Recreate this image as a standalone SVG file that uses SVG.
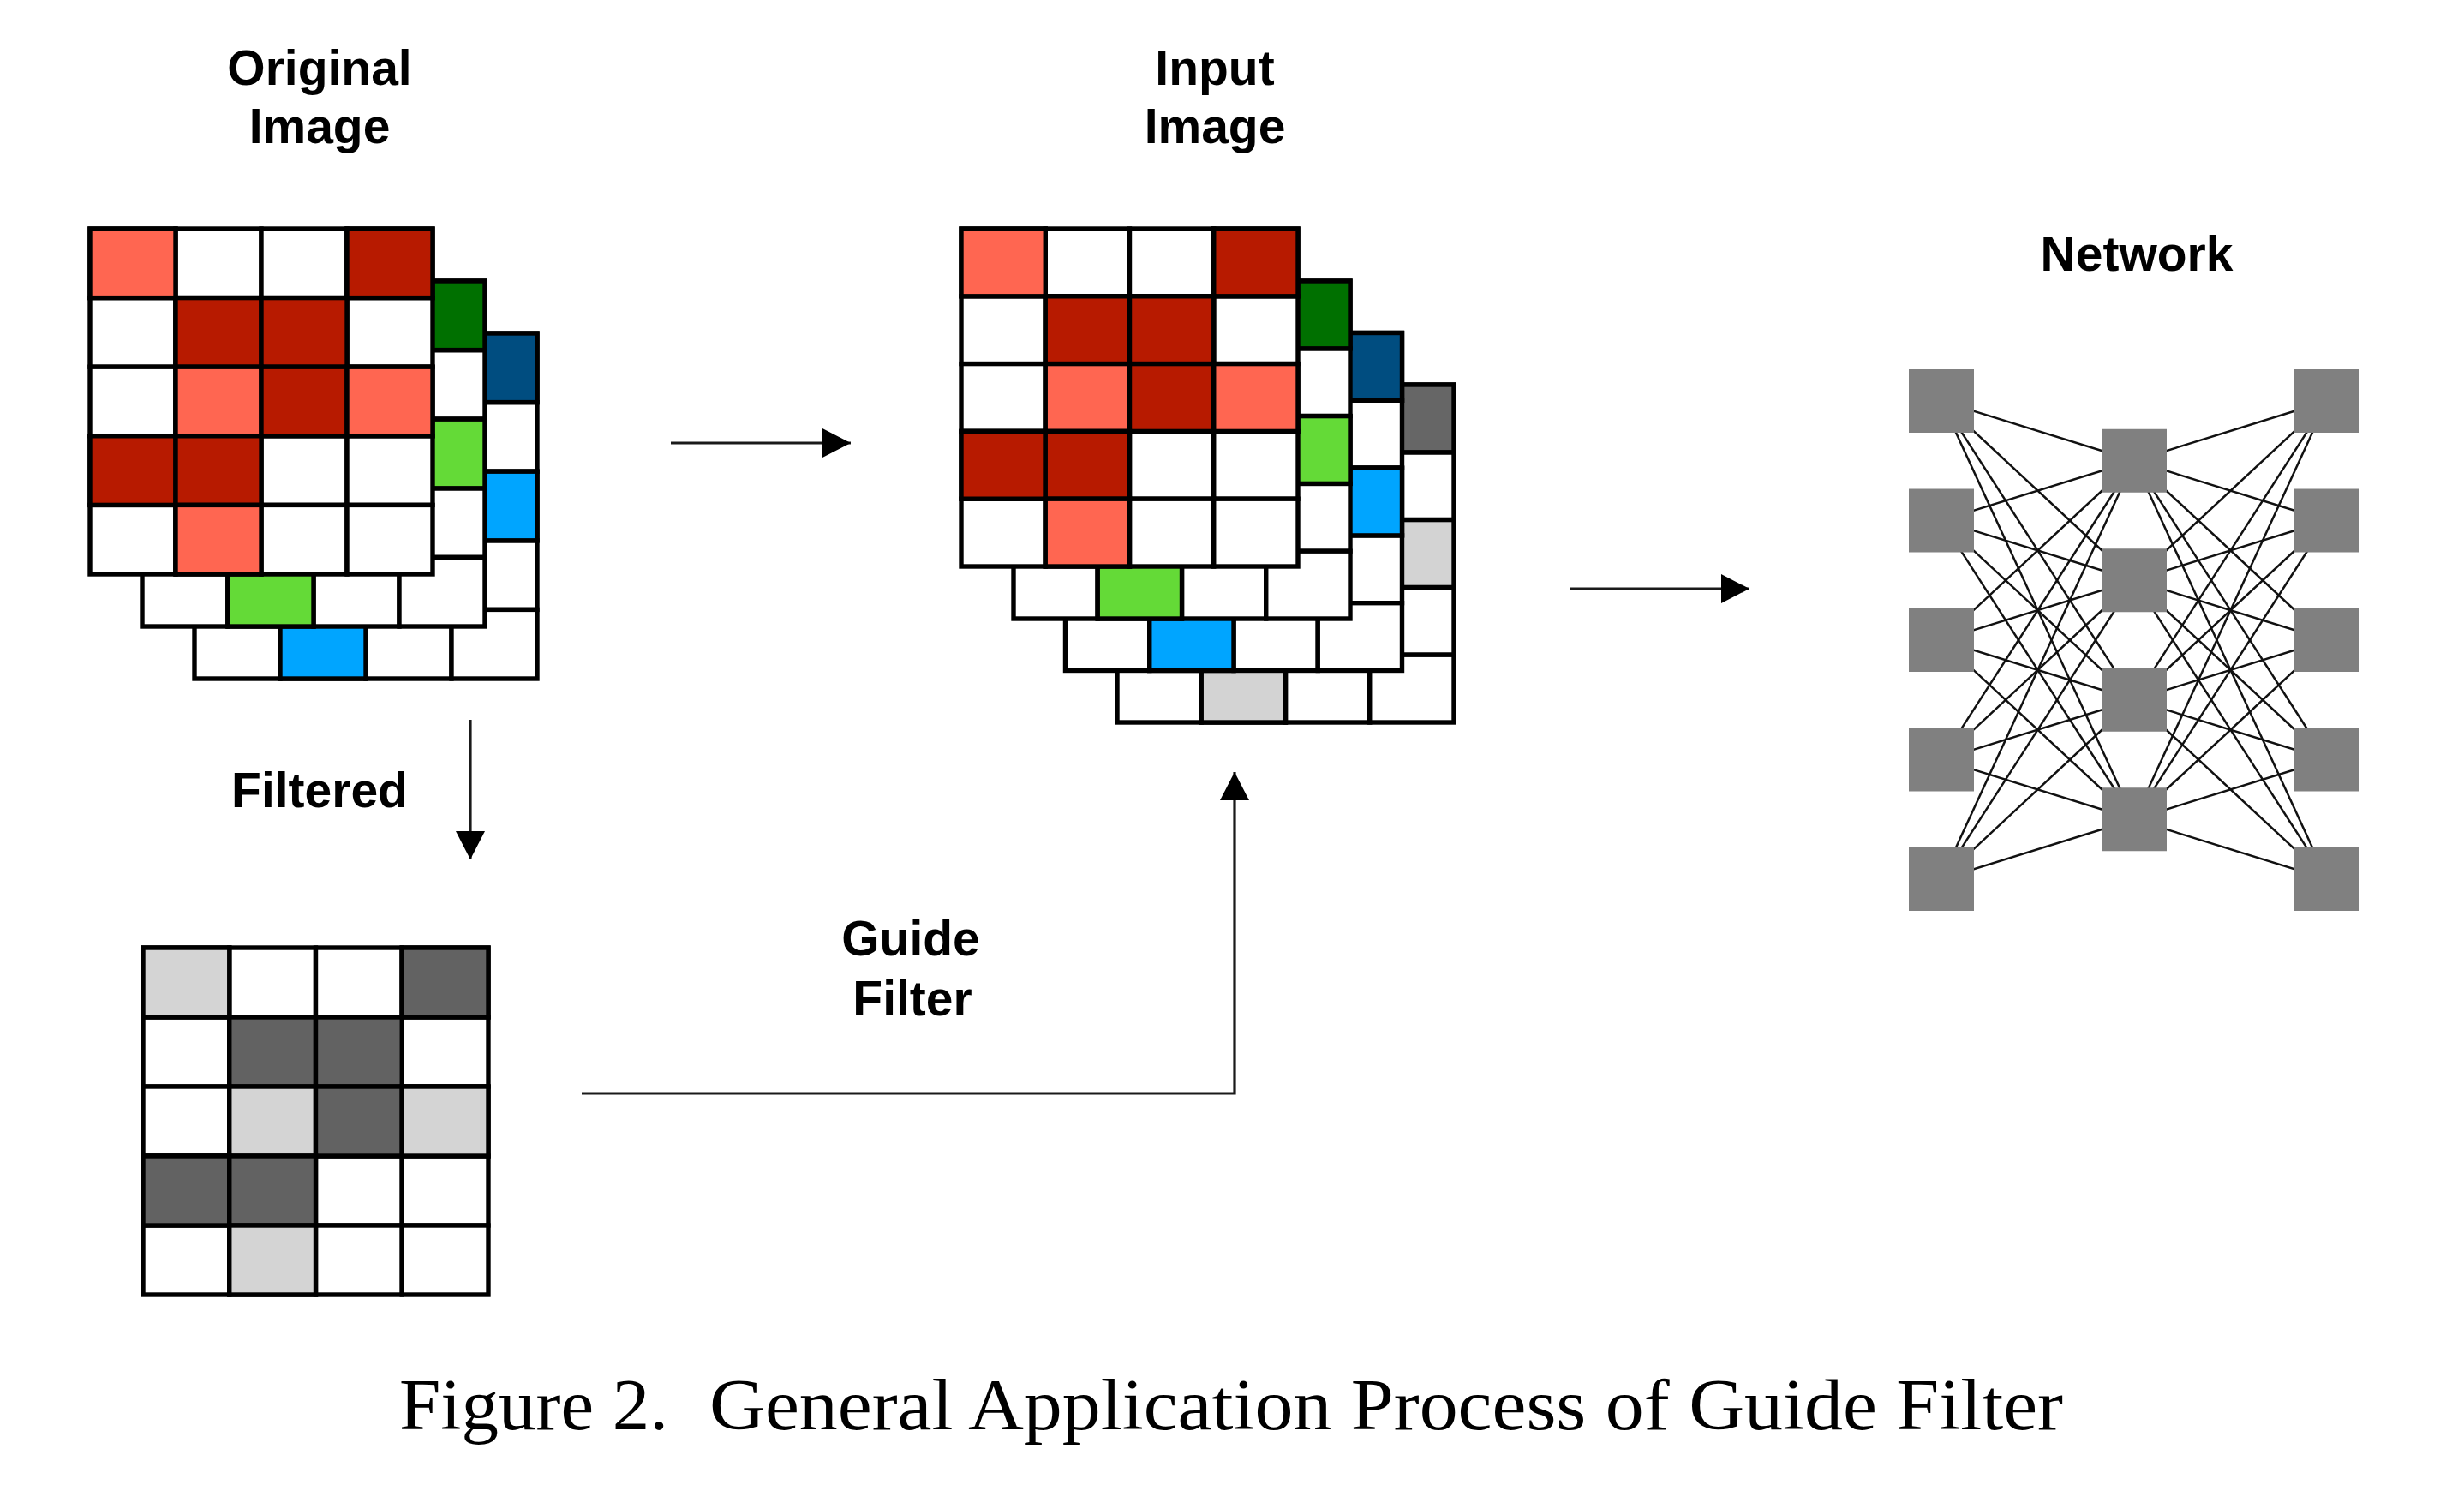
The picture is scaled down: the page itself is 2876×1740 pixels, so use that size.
<svg xmlns="http://www.w3.org/2000/svg" xmlns:xlink="http://www.w3.org/1999/xlink" width="2876" height="1740" viewBox="0 0 2876 1740">
<style>
.c{fill:#ffffff;stroke:#000000;stroke-width:5.4}
.lr{fill:#FF6651}
.dr{fill:#B71A00}
.dg{fill:#007000}
.lg{fill:#64DA37}
.db{fill:#004D80}
.lb{fill:#00A5FF}
.dk{fill:#666666}
.lt{fill:#D3D3D3}
.fd{fill:#626262}
.fl{fill:#D4D4D4}
.lbl{font-family:"Liberation Sans",Arial,Helvetica,sans-serif;font-weight:bold;font-size:57px;fill:#000;text-anchor:middle}
.cap{font-family:"Liberation Serif","Times New Roman",serif;font-size:84px;fill:#000}
.arr{fill:none;stroke:#1a1a1a;stroke-width:3.2;marker-end:url(#head)}
.edge{stroke:#111111;stroke-width:2.5}
.neu{fill:#808080}
</style>
<defs>
<marker id="head" markerUnits="userSpaceOnUse" viewBox="0 0 33 34" refX="33" refY="17" markerWidth="33" markerHeight="34" orient="auto">
<path d="M0,0 L33,17 L0,34 Z" fill="#000"/>
</marker>
<g id="gridA">
<rect class="c" x="0" y="0" width="100" height="80.6"/><rect class="c" x="100" y="0" width="100" height="80.6"/><rect class="c" x="200" y="0" width="100" height="80.6"/><rect class="c" x="300" y="0" width="100" height="80.6"/>
<rect class="c" x="0" y="80.6" width="100" height="80.6"/><rect class="c" x="100" y="80.6" width="100" height="80.6"/><rect class="c" x="200" y="80.6" width="100" height="80.6"/><rect class="c" x="300" y="80.6" width="100" height="80.6"/>
<rect class="c" x="0" y="161.2" width="100" height="80.6"/><rect class="c" x="100" y="161.2" width="100" height="80.6"/><rect class="c" x="200" y="161.2" width="100" height="80.6"/><rect class="c" x="300" y="161.2" width="100" height="80.6"/>
<rect class="c" x="0" y="241.8" width="100" height="80.6"/><rect class="c" x="100" y="241.8" width="100" height="80.6"/><rect class="c" x="200" y="241.8" width="100" height="80.6"/><rect class="c" x="300" y="241.8" width="100" height="80.6"/>
<rect class="c" x="0" y="322.4" width="100" height="80.6"/><rect class="c" x="100" y="322.4" width="100" height="80.6"/><rect class="c" x="200" y="322.4" width="100" height="80.6"/><rect class="c" x="300" y="322.4" width="100" height="80.6"/>
</g>
<g id="gridB">
<rect class="c" x="0" y="0" width="98.25" height="78.8"/><rect class="c" x="98.25" y="0" width="98.25" height="78.8"/><rect class="c" x="196.5" y="0" width="98.25" height="78.8"/><rect class="c" x="294.75" y="0" width="98.25" height="78.8"/>
<rect class="c" x="0" y="78.8" width="98.25" height="78.8"/><rect class="c" x="98.25" y="78.8" width="98.25" height="78.8"/><rect class="c" x="196.5" y="78.8" width="98.25" height="78.8"/><rect class="c" x="294.75" y="78.8" width="98.25" height="78.8"/>
<rect class="c" x="0" y="157.6" width="98.25" height="78.8"/><rect class="c" x="98.25" y="157.6" width="98.25" height="78.8"/><rect class="c" x="196.5" y="157.6" width="98.25" height="78.8"/><rect class="c" x="294.75" y="157.6" width="98.25" height="78.8"/>
<rect class="c" x="0" y="236.4" width="98.25" height="78.8"/><rect class="c" x="98.25" y="236.4" width="98.25" height="78.8"/><rect class="c" x="196.5" y="236.4" width="98.25" height="78.8"/><rect class="c" x="294.75" y="236.4" width="98.25" height="78.8"/>
<rect class="c" x="0" y="315.2" width="98.25" height="78.8"/><rect class="c" x="98.25" y="315.2" width="98.25" height="78.8"/><rect class="c" x="196.5" y="315.2" width="98.25" height="78.8"/><rect class="c" x="294.75" y="315.2" width="98.25" height="78.8"/>
</g>
<g id="gridC">
<rect class="c" x="0" y="0" width="100.75" height="81"/><rect class="c" x="100.75" y="0" width="100.75" height="81"/><rect class="c" x="201.5" y="0" width="100.75" height="81"/><rect class="c" x="302.25" y="0" width="100.75" height="81"/>
<rect class="c" x="0" y="81" width="100.75" height="81"/><rect class="c" x="100.75" y="81" width="100.75" height="81"/><rect class="c" x="201.5" y="81" width="100.75" height="81"/><rect class="c" x="302.25" y="81" width="100.75" height="81"/>
<rect class="c" x="0" y="162" width="100.75" height="81"/><rect class="c" x="100.75" y="162" width="100.75" height="81"/><rect class="c" x="201.5" y="162" width="100.75" height="81"/><rect class="c" x="302.25" y="162" width="100.75" height="81"/>
<rect class="c" x="0" y="243" width="100.75" height="81"/><rect class="c" x="100.75" y="243" width="100.75" height="81"/><rect class="c" x="201.5" y="243" width="100.75" height="81"/><rect class="c" x="302.25" y="243" width="100.75" height="81"/>
<rect class="c" x="0" y="324" width="100.75" height="81"/><rect class="c" x="100.75" y="324" width="100.75" height="81"/><rect class="c" x="201.5" y="324" width="100.75" height="81"/><rect class="c" x="302.25" y="324" width="100.75" height="81"/>
</g>
</defs>
<rect width="2876" height="1740" fill="#ffffff"/>

<g id="original-image">
<g id="orig-layer-blue" transform="translate(227,389)">
<use xlink:href="#gridA"/>
<rect class="c db" x="300" y="0" width="100" height="80.6"/>
<rect class="c lb" x="300" y="161.2" width="100" height="80.6"/>
<rect class="c lb" x="100" y="322.4" width="100" height="80.6"/>
</g>
<g id="orig-layer-green" transform="translate(166,328)">
<use xlink:href="#gridA"/>
<rect class="c dg" x="300" y="0" width="100" height="80.6"/>
<rect class="c lg" x="300" y="161.2" width="100" height="80.6"/>
<rect class="c lg" x="100" y="322.4" width="100" height="80.6"/>
</g>
<g id="orig-layer-red" transform="translate(105,267)">
<use xlink:href="#gridA"/>
<rect class="c lr" x="0" y="0" width="100" height="80.6"/>
<rect class="c dr" x="300" y="0" width="100" height="80.6"/>
<rect class="c dr" x="100" y="80.6" width="100" height="80.6"/>
<rect class="c dr" x="200" y="80.6" width="100" height="80.6"/>
<rect class="c lr" x="100" y="161.2" width="100" height="80.6"/>
<rect class="c dr" x="200" y="161.2" width="100" height="80.6"/>
<rect class="c lr" x="300" y="161.2" width="100" height="80.6"/>
<rect class="c dr" x="0" y="241.8" width="100" height="80.6"/>
<rect class="c dr" x="100" y="241.8" width="100" height="80.6"/>
<rect class="c lr" x="100" y="322.4" width="100" height="80.6"/>
</g>
<text class="lbl" x="373" y="99">Original</text>
<text class="lbl" x="373" y="167">Image</text>
</g>

<g id="input-image">
<g id="input-layer-gray" transform="translate(1304,449)">
<use xlink:href="#gridB"/>
<rect class="c dk" x="294.75" y="0" width="98.25" height="78.8"/>
<rect class="c lt" x="294.75" y="157.6" width="98.25" height="78.8"/>
<rect class="c lt" x="98.25" y="315.2" width="98.25" height="78.8"/>
</g>
<g id="input-layer-blue" transform="translate(1243.5,388.5)">
<use xlink:href="#gridB"/>
<rect class="c db" x="294.75" y="0" width="98.25" height="78.8"/>
<rect class="c lb" x="294.75" y="157.6" width="98.25" height="78.8"/>
<rect class="c lb" x="98.25" y="315.2" width="98.25" height="78.8"/>
</g>
<g id="input-layer-green" transform="translate(1183,328)">
<use xlink:href="#gridB"/>
<rect class="c dg" x="294.75" y="0" width="98.25" height="78.8"/>
<rect class="c lg" x="294.75" y="157.6" width="98.25" height="78.8"/>
<rect class="c lg" x="98.25" y="315.2" width="98.25" height="78.8"/>
</g>
<g id="input-layer-red" transform="translate(1122,267)">
<use xlink:href="#gridB"/>
<rect class="c lr" x="0" y="0" width="98.25" height="78.8"/>
<rect class="c dr" x="294.75" y="0" width="98.25" height="78.8"/>
<rect class="c dr" x="98.25" y="78.8" width="98.25" height="78.8"/>
<rect class="c dr" x="196.5" y="78.8" width="98.25" height="78.8"/>
<rect class="c lr" x="98.25" y="157.6" width="98.25" height="78.8"/>
<rect class="c dr" x="196.5" y="157.6" width="98.25" height="78.8"/>
<rect class="c lr" x="294.75" y="157.6" width="98.25" height="78.8"/>
<rect class="c dr" x="0" y="236.4" width="98.25" height="78.8"/>
<rect class="c dr" x="98.25" y="236.4" width="98.25" height="78.8"/>
<rect class="c lr" x="98.25" y="315.2" width="98.25" height="78.8"/>
</g>
<text class="lbl" x="1418" y="99">Input</text>
<text class="lbl" x="1418" y="167">Image</text>
</g>

<g id="filtered-image">
<g transform="translate(167,1106)">
<use xlink:href="#gridC"/>
<rect class="c fl" x="0" y="0" width="100.75" height="81"/>
<rect class="c fd" x="302.25" y="0" width="100.75" height="81"/>
<rect class="c fd" x="100.75" y="81" width="100.75" height="81"/>
<rect class="c fd" x="201.5" y="81" width="100.75" height="81"/>
<rect class="c fl" x="100.75" y="162" width="100.75" height="81"/>
<rect class="c fd" x="201.5" y="162" width="100.75" height="81"/>
<rect class="c fl" x="302.25" y="162" width="100.75" height="81"/>
<rect class="c fd" x="0" y="243" width="100.75" height="81"/>
<rect class="c fd" x="100.75" y="243" width="100.75" height="81"/>
<rect class="c fl" x="100.75" y="324" width="100.75" height="81"/>
</g>
</g>

<g id="network">
<g id="network-edges">
<line class="edge" x1="2266" y1="468" x2="2491" y2="537.75"/><line class="edge" x1="2266" y1="468" x2="2491" y2="677.25"/><line class="edge" x1="2266" y1="468" x2="2491" y2="816.75"/><line class="edge" x1="2266" y1="468" x2="2491" y2="956.25"/>
<line class="edge" x1="2266" y1="607.5" x2="2491" y2="537.75"/><line class="edge" x1="2266" y1="607.5" x2="2491" y2="677.25"/><line class="edge" x1="2266" y1="607.5" x2="2491" y2="816.75"/><line class="edge" x1="2266" y1="607.5" x2="2491" y2="956.25"/>
<line class="edge" x1="2266" y1="747" x2="2491" y2="537.75"/><line class="edge" x1="2266" y1="747" x2="2491" y2="677.25"/><line class="edge" x1="2266" y1="747" x2="2491" y2="816.75"/><line class="edge" x1="2266" y1="747" x2="2491" y2="956.25"/>
<line class="edge" x1="2266" y1="886.5" x2="2491" y2="537.75"/><line class="edge" x1="2266" y1="886.5" x2="2491" y2="677.25"/><line class="edge" x1="2266" y1="886.5" x2="2491" y2="816.75"/><line class="edge" x1="2266" y1="886.5" x2="2491" y2="956.25"/>
<line class="edge" x1="2266" y1="1026" x2="2491" y2="537.75"/><line class="edge" x1="2266" y1="1026" x2="2491" y2="677.25"/><line class="edge" x1="2266" y1="1026" x2="2491" y2="816.75"/><line class="edge" x1="2266" y1="1026" x2="2491" y2="956.25"/>
<line class="edge" x1="2716" y1="468" x2="2491" y2="537.75"/><line class="edge" x1="2716" y1="468" x2="2491" y2="677.25"/><line class="edge" x1="2716" y1="468" x2="2491" y2="816.75"/><line class="edge" x1="2716" y1="468" x2="2491" y2="956.25"/>
<line class="edge" x1="2716" y1="607.5" x2="2491" y2="537.75"/><line class="edge" x1="2716" y1="607.5" x2="2491" y2="677.25"/><line class="edge" x1="2716" y1="607.5" x2="2491" y2="816.75"/><line class="edge" x1="2716" y1="607.5" x2="2491" y2="956.25"/>
<line class="edge" x1="2716" y1="747" x2="2491" y2="537.75"/><line class="edge" x1="2716" y1="747" x2="2491" y2="677.25"/><line class="edge" x1="2716" y1="747" x2="2491" y2="816.75"/><line class="edge" x1="2716" y1="747" x2="2491" y2="956.25"/>
<line class="edge" x1="2716" y1="886.5" x2="2491" y2="537.75"/><line class="edge" x1="2716" y1="886.5" x2="2491" y2="677.25"/><line class="edge" x1="2716" y1="886.5" x2="2491" y2="816.75"/><line class="edge" x1="2716" y1="886.5" x2="2491" y2="956.25"/>
<line class="edge" x1="2716" y1="1026" x2="2491" y2="537.75"/><line class="edge" x1="2716" y1="1026" x2="2491" y2="677.25"/><line class="edge" x1="2716" y1="1026" x2="2491" y2="816.75"/><line class="edge" x1="2716" y1="1026" x2="2491" y2="956.25"/>
</g>
<g id="network-neurons">
<rect class="neu" x="2228" y="431" width="76" height="74"/>
<rect class="neu" x="2228" y="570.5" width="76" height="74"/>
<rect class="neu" x="2228" y="710" width="76" height="74"/>
<rect class="neu" x="2228" y="849.5" width="76" height="74"/>
<rect class="neu" x="2228" y="989" width="76" height="74"/>
<rect class="neu" x="2453" y="500.75" width="76" height="74"/>
<rect class="neu" x="2453" y="640.25" width="76" height="74"/>
<rect class="neu" x="2453" y="779.75" width="76" height="74"/>
<rect class="neu" x="2453" y="919.25" width="76" height="74"/>
<rect class="neu" x="2678" y="431" width="76" height="74"/>
<rect class="neu" x="2678" y="570.5" width="76" height="74"/>
<rect class="neu" x="2678" y="710" width="76" height="74"/>
<rect class="neu" x="2678" y="849.5" width="76" height="74"/>
<rect class="neu" x="2678" y="989" width="76" height="74"/>
</g>
<text class="lbl" x="2494" y="316">Network</text>
</g>

<g id="connectors">
<line class="arr" x1="783" y1="517" x2="993" y2="517"/>
<line class="arr" x1="1833" y1="687" x2="2042" y2="687"/>
<line class="arr" x1="549" y1="840" x2="549" y2="1003"/>
<polyline class="arr" points="679,1276 1441,1276 1441,901"/>
</g>

<g id="connector-labels">
<text class="lbl" x="373" y="942">Filtered</text>
<text class="lbl" x="1063" y="1115">Guide</text>
<text class="lbl" x="1065" y="1185">Filter</text>
</g>

<g id="caption">
<text class="cap" x="466" y="1668" textLength="314" lengthAdjust="spacingAndGlyphs">Figure 2.</text>
<text class="cap" x="828" y="1668" textLength="1580" lengthAdjust="spacingAndGlyphs">General Application Process of Guide Filter</text>
</g>
</svg>
